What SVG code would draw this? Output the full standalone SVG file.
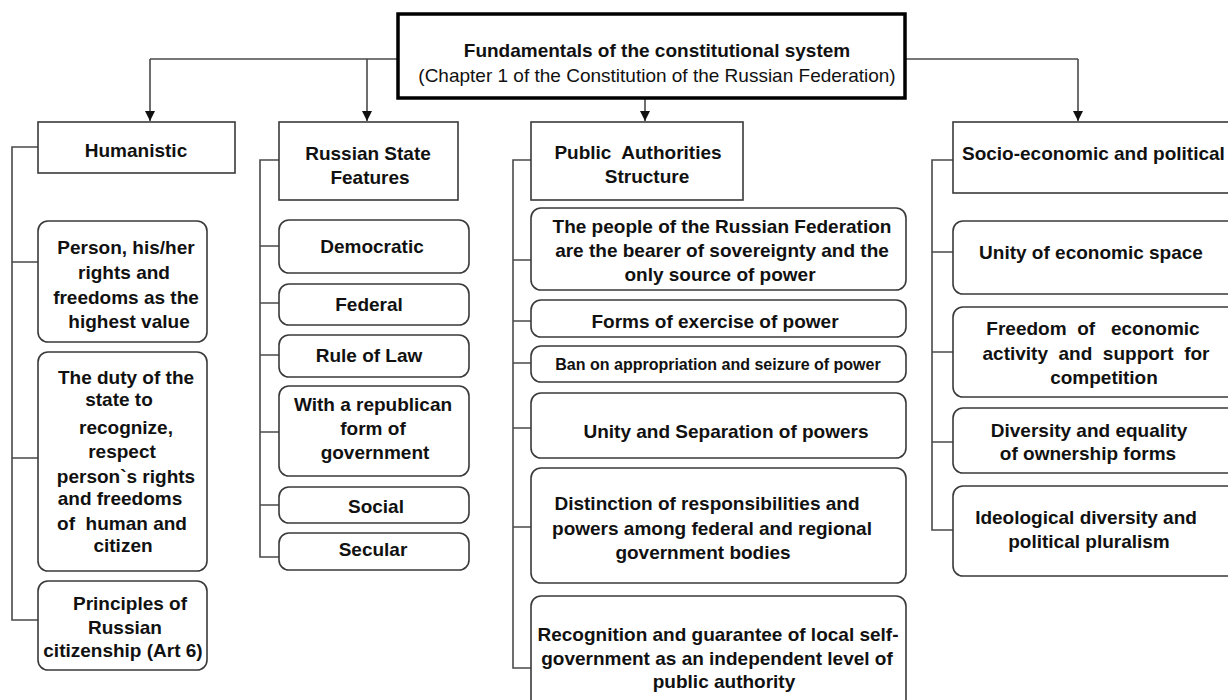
<svg xmlns="http://www.w3.org/2000/svg" width="1228" height="700" viewBox="0 0 1228 700">
  <style>
    .bg { fill: #ffffff; }
    .head { fill: #ffffff; stroke: #3a3a3a; stroke-width: 1.6; }
    .item { fill: #ffffff; stroke: #3a3a3a; stroke-width: 1.6; }
    .root { fill: #ffffff; stroke: #000000; stroke-width: 3.5; }
    .wire { fill: none; stroke: #4a4a4a; stroke-width: 1.6; }
    .arrow { fill: none; stroke: #4a4a4a; stroke-width: 1.6; marker-end: url(#tip); }
    text { font-family: "Liberation Sans", Arial, sans-serif; font-size: 19px; font-weight: bold; fill: #111111; text-anchor: middle; }
    .plain { font-weight: normal; }
    .small { font-size: 16px; }
    .left { text-anchor: start; }
  </style>
  <defs>
    <marker id="tip" viewBox="0 0 10 12" refX="10" refY="6" markerWidth="10" markerHeight="12" markerUnits="userSpaceOnUse" orient="auto">
      <path d="M0,1 L10,6 L0,11 Z" fill="#111111"/>
    </marker>
  </defs>

  <rect class="bg" x="0" y="0" width="1228" height="700"/>

  <!-- connectors: root to the four headings, headings to their items -->
  <g id="connectors">
    <path class="wire" d="M398,59 H150"/>
    <path class="arrow" d="M150,59 V121"/>
    <path class="arrow" d="M367,59 V121"/>
    <path class="arrow" d="M645,98 V121"/>
    <path class="wire" d="M905,59 H1078"/>
    <path class="arrow" d="M1078,59 V121"/>
    <path class="wire" d="M433,86 V98 M832,86 V98"/>

    <path class="wire" d="M38,147 H12 V620 H38 M12,262 H38 M12,458 H38"/>
    <path class="wire" d="M279,160 H260 V557 H279 M260,246 H279 M260,303 H279 M260,355 H279 M260,432 H279 M260,505 H279"/>
    <path class="wire" d="M531,160 H513 V668 H531 M513,260 H531 M513,321 H531 M513,363 H531 M513,428 H531 M513,527 H531"/>
    <path class="wire" d="M953,160 H932 V530 H953 M932,252 H953 M932,352 H953 M932,442 H953"/>
  </g>

  <g id="root">
    <rect class="root" x="398" y="14" width="507" height="84"/>
    <text x="657" y="57">Fundamentals of the constitutional system</text>
    <text class="plain" x="657" y="82">(Chapter 1 of the Constitution of the Russian Federation)</text>
  </g>

  <!-- Humanistic column -->
  <g id="humanistic">
    <rect class="head" x="38" y="122" width="197" height="51"/>
    <text x="136" y="157">Humanistic</text>
  </g>
  <g id="h-person">
    <rect class="item" x="38" y="221" width="169" height="121" rx="10"/>
    <text x="126" y="254">Person, his/her</text>
    <text x="124" y="279">rights and</text>
    <text x="126" y="304">freedoms as the</text>
    <text x="129" y="328">highest value</text>
  </g>
  <g id="h-duty">
    <rect class="item" x="38" y="352" width="169" height="219" rx="10"/>
    <text x="126" y="384">The duty of the</text>
    <text x="119" y="406">state to</text>
    <text x="126" y="434">recognize,</text>
    <text x="122" y="458">respect</text>
    <text x="126" y="483">person`s rights</text>
    <text x="120" y="505">and freedoms</text>
    <text x="122" y="530" xml:space="preserve">of  human and</text>
    <text x="123" y="552">citizen</text>
  </g>
  <g id="h-citizenship">
    <rect class="item" x="38" y="581" width="169" height="89" rx="10"/>
    <text x="130" y="610">Principles of</text>
    <text x="125" y="634">Russian</text>
    <text x="123" y="657">citizenship (Art 6)</text>
  </g>

  <!-- Russian State Features column -->
  <g id="state-features">
    <rect class="head" x="279" y="122" width="179" height="78"/>
    <text x="368" y="160">Russian State</text>
    <text x="370" y="184">Features</text>
  </g>
  <g id="s-democratic">
    <rect class="item" x="279" y="220" width="190" height="53" rx="10"/>
    <text x="372" y="253">Democratic</text>
  </g>
  <g id="s-federal">
    <rect class="item" x="279" y="284" width="190" height="41" rx="10"/>
    <text x="369" y="311">Federal</text>
  </g>
  <g id="s-law">
    <rect class="item" x="279" y="335" width="190" height="42" rx="10"/>
    <text x="369" y="362">Rule of Law</text>
  </g>
  <g id="s-republic">
    <rect class="item" x="279" y="386" width="190" height="90" rx="10"/>
    <text x="373" y="411">With a republican</text>
    <text x="373" y="435">form of</text>
    <text x="375" y="459">government</text>
  </g>
  <g id="s-social">
    <rect class="item" x="279" y="487" width="190" height="36" rx="10"/>
    <text x="376" y="513">Social</text>
  </g>
  <g id="s-secular">
    <rect class="item" x="279" y="533" width="190" height="37" rx="10"/>
    <text x="373" y="556">Secular</text>
  </g>

  <!-- Public Authorities Structure column -->
  <g id="public-authorities">
    <rect class="head" x="531" y="122" width="212" height="78"/>
    <text x="638" y="159" xml:space="preserve">Public  Authorities</text>
    <text x="647" y="183">Structure</text>
  </g>
  <g id="p-people">
    <rect class="item" x="531" y="208" width="375" height="82" rx="10"/>
    <text x="722" y="233">The people of the Russian Federation</text>
    <text x="722" y="257">are the bearer of sovereignty and the</text>
    <text x="720" y="281">only source of power</text>
  </g>
  <g id="p-forms">
    <rect class="item" x="531" y="300" width="375" height="37" rx="10"/>
    <text x="715" y="328">Forms of exercise of power</text>
  </g>
  <g id="p-ban">
    <rect class="item" x="531" y="346" width="375" height="36" rx="10"/>
    <text class="small" x="718" y="370">Ban on appropriation and seizure of power</text>
  </g>
  <g id="p-separation">
    <rect class="item" x="531" y="393" width="375" height="65" rx="10"/>
    <text x="726" y="438">Unity and Separation of powers</text>
  </g>
  <g id="p-distinction">
    <rect class="item" x="531" y="468" width="375" height="115" rx="10"/>
    <text x="707" y="510">Distinction of responsibilities and</text>
    <text x="712" y="535">powers among federal and regional</text>
    <text x="703" y="559">government bodies</text>
  </g>
  <g id="p-local">
    <rect class="item" x="531" y="596" width="375" height="120" rx="10"/>
    <text x="718" y="641">Recognition and guarantee of local self-</text>
    <text x="717" y="665">government as an independent level of</text>
    <text x="724" y="688">public authority</text>
  </g>

  <!-- Socio-economic and political column -->
  <g id="socio-economic">
    <rect class="head" x="953" y="122" width="285" height="71"/>
    <text class="left" x="962" y="160">Socio-economic and political</text>
  </g>
  <g id="e-space">
    <rect class="item" x="953" y="221" width="285" height="73" rx="10"/>
    <text x="1091" y="259">Unity of economic space</text>
  </g>
  <g id="e-freedom">
    <rect class="item" x="953" y="307" width="285" height="90" rx="10"/>
    <text x="1093" y="335" xml:space="preserve">Freedom  of   economic</text>
    <text x="1096" y="360" xml:space="preserve">activity  and  support  for</text>
    <text x="1104" y="384">competition</text>
  </g>
  <g id="e-ownership">
    <rect class="item" x="953" y="408" width="285" height="65" rx="10"/>
    <text x="1089" y="437">Diversity and equality</text>
    <text x="1088" y="460">of ownership forms</text>
  </g>
  <g id="e-pluralism">
    <rect class="item" x="953" y="486" width="285" height="90" rx="10"/>
    <text x="1086" y="524">Ideological diversity and</text>
    <text x="1089" y="548">political pluralism</text>
  </g>
</svg>
